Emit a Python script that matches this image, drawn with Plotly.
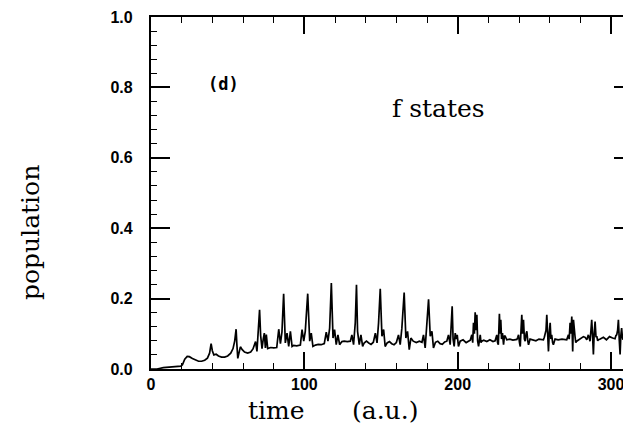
import plotly.graph_objects as go

time = [0, 4, 8, 12, 16, 19.5, 20.5, 22, 23.6, 25, 27, 29, 31, 33, 35, 36.8, 38.2, 39.2, 40.0, 41,
        42.5, 44, 46, 48, 50, 52, 53.5, 54.6, 55.5, 56.0, 56.6, 57.5, 58.3, 59.5, 61, 63, 65, 66.5, 67.5, 68.2,
        69.1, 70.0, 70.8, 71.5, 72.4, 73.2, 73.9, 74.6, 75.2, 76.1, 77, 78, 80, 82, 83.3, 84.4, 85.4, 86.5, 87.6, 88.7,
        89.8, 90.9, 92.0, 93, 95, 97.4, 98.5, 99.6, 100.6, 102.2, 103.5, 104.5, 105.6, 107.2, 109, 111, 113, 114.3, 115.4, 116.5,
        117.6, 118.7, 119.7, 120.8, 121.9, 123.0, 124.5, 126, 128, 130, 131.0, 132.1, 133.2, 134.0, 134.7, 135.8, 136.9, 138.0, 139, 140.5,
        142, 143.5, 145, 146.3, 147.4, 148.4, 149.5, 150.6, 151.7, 152.7, 154, 155.5, 157, 158.5, 160, 161.4, 162.5, 163.6, 165.1, 166.2,
        167.3, 168.4, 169.5, 171, 173, 175, 176.7, 177.7, 178.8, 179.9, 181.0, 182.1, 183.2, 184.2, 185.5, 187, 188.5, 190, 191.5, 192.9,
        194.0, 195.1, 195.8, 196.4, 197.0, 197.7, 198.4, 199.0, 199.7, 200.5, 201.6, 203.5, 205.5, 207, 208.2, 209.2, 209.8, 210.3, 210.9, 211.4,
        212.0, 212.5, 213.0, 213.6, 214.2, 214.7, 215.2, 215.7, 217, 219, 221, 223, 224.4, 225.5, 226.0, 226.5, 227.2, 227.7, 228.1, 228.6,
        229.2, 229.9, 230.5, 231.0, 232, 234, 236, 238.6, 239.2, 239.7, 240.3, 240.8, 241.3, 241.8, 242.3, 242.9, 243.5, 244.0, 244.6, 245.1,
        245.7, 246.2, 247.2, 249, 251, 253, 255.9, 256.5, 257.0, 257.6, 258.1, 258.6, 259.2, 259.7, 260.3, 260.8, 261.3, 261.9, 262.4, 263.5,
        265.5, 268, 271.1, 272.2, 272.7, 273.3, 273.8, 274.4, 275.0, 275.5, 276.0, 276.5, 277.0, 277.6, 279, 280.9, 282, 283.1, 284.2, 285.2,
        285.8, 286.3, 286.9, 287.4, 288.0, 288.5, 289.0, 289.6, 290.2, 290.7, 291.3, 291.8, 293, 295, 297, 299, 301, 302.6, 303.2, 303.7,
        304.3, 304.8, 305.4, 305.9, 306.4, 306.9, 307.4, 307.8]

population = [0.000, 0.000, 0.004, 0.006, 0.007, 0.008, 0.012, 0.028, 0.036, 0.035, 0.030, 0.025, 0.022, 0.022, 0.025, 0.031, 0.045, 0.072, 0.052, 0.040,
              0.042, 0.037, 0.034, 0.034, 0.037, 0.045, 0.058, 0.080, 0.113, 0.070, 0.030, 0.048, 0.063, 0.055, 0.048, 0.045, 0.048, 0.057, 0.070, 0.078,
              0.050, 0.100, 0.168, 0.095, 0.058, 0.085, 0.102, 0.060, 0.098, 0.058, 0.060, 0.061, 0.060, 0.061, 0.113, 0.072, 0.105, 0.214, 0.074, 0.102,
              0.064, 0.107, 0.064, 0.067, 0.066, 0.068, 0.112, 0.079, 0.107, 0.214, 0.079, 0.102, 0.064, 0.068, 0.070, 0.069, 0.072, 0.105, 0.079, 0.116,
              0.244, 0.088, 0.112, 0.069, 0.097, 0.069, 0.078, 0.079, 0.078, 0.079, 0.097, 0.069, 0.131, 0.239, 0.107, 0.069, 0.097, 0.064, 0.074, 0.079,
              0.074, 0.070, 0.076, 0.102, 0.074, 0.131, 0.228, 0.093, 0.112, 0.064, 0.074, 0.078, 0.072, 0.069, 0.075, 0.097, 0.069, 0.116, 0.217, 0.088,
              0.107, 0.055, 0.088, 0.079, 0.075, 0.079, 0.076, 0.097, 0.060, 0.140, 0.198, 0.093, 0.107, 0.060, 0.076, 0.079, 0.072, 0.070, 0.077, 0.079,
              0.097, 0.069, 0.120, 0.178, 0.085, 0.064, 0.102, 0.085, 0.097, 0.064, 0.079, 0.083, 0.075, 0.078, 0.082, 0.097, 0.075, 0.131, 0.100, 0.161,
              0.110, 0.154, 0.080, 0.064, 0.095, 0.097, 0.075, 0.079, 0.082, 0.078, 0.083, 0.078, 0.080, 0.097, 0.075, 0.069, 0.157, 0.100, 0.140, 0.085,
              0.102, 0.069, 0.095, 0.093, 0.083, 0.085, 0.082, 0.084, 0.090, 0.097, 0.075, 0.064, 0.110, 0.154, 0.100, 0.140, 0.085, 0.079, 0.100, 0.107,
              0.080, 0.069, 0.085, 0.083, 0.080, 0.085, 0.083, 0.090, 0.097, 0.110, 0.154, 0.080, 0.050, 0.100, 0.131, 0.085, 0.097, 0.075, 0.069, 0.085,
              0.083, 0.085, 0.083, 0.097, 0.085, 0.131, 0.100, 0.149, 0.050, 0.140, 0.095, 0.093, 0.075, 0.079, 0.083, 0.090, 0.092, 0.090, 0.083, 0.097,
              0.085, 0.079, 0.110, 0.140, 0.090, 0.041, 0.100, 0.135, 0.090, 0.093, 0.080, 0.083, 0.085, 0.090, 0.083, 0.092, 0.088, 0.086, 0.095, 0.097,
              0.110, 0.140, 0.080, 0.041, 0.095, 0.116, 0.090, 0.083]

x_ticks = [0, 100, 200, 300]
x_tick_labels = ["0", "100", "200", "300"]
y_ticks = [0.0, 0.2, 0.4, 0.6, 0.8, 1.0]
y_tick_labels = ["0.0", "0.2", "0.4", "0.6", "0.8", "1.0"]

L, R, T, B = 151, 0, 17, 56
W, H = 623, 425
plot_w = W - L - R
plot_h = H - T - B
x_range = [0, 307.8]
y_range = [0, 1.0]


def px_to_paper(px, py):
    return (px - L) / plot_w, (H - B - py) / plot_h


fig = go.Figure()
fig.add_trace(go.Scatter(x=time, y=population, mode="lines",
                         line=dict(color="black", width=1.7), showlegend=False))
# empty trace that activates the right-hand tick axis
fig.add_trace(go.Scatter(x=[], y=[], yaxis="y2", showlegend=False, hoverinfo="skip"))

tickfont = dict(family="Liberation Sans, Arial, sans-serif", size=16, color="black", weight="bold")
pad = "\u00a0\u00a0\u00a0"

fig.update_layout(
    width=W, height=H, margin=dict(l=L, r=R, t=T, b=B),
    paper_bgcolor="white", plot_bgcolor="white",
    xaxis=dict(range=x_range, tickmode="array", tickvals=x_ticks, ticktext=x_tick_labels,
               ticks="inside", ticklen=17, tickwidth=1.5, tickcolor="black",
               showline=True, linecolor="black", linewidth=1.5, mirror="ticks",
               showgrid=False, zeroline=False, tickfont=tickfont, ticklabeloverflow="allow",
               minor=dict(ticks="inside", dtick=20, tick0=0, ticklen=6, tickwidth=1.3,
                          tickcolor="black", showgrid=False)),
    yaxis=dict(range=y_range, tickmode="array", tickvals=y_ticks,
               ticktext=[t + pad for t in y_tick_labels],
               ticks="inside", ticklen=19, tickwidth=1.5, tickcolor="black",
               showline=True, linecolor="black", linewidth=1.5,
               showgrid=False, zeroline=False, tickfont=tickfont,
               minor=dict(ticks="inside", dtick=0.04, tick0=0, ticklen=6, tickwidth=1.3,
                          tickcolor="black", showgrid=False)),
    yaxis2=dict(range=y_range, overlaying="y", side="right", tickmode="array", tickvals=y_ticks,
                showticklabels=False, ticks="inside", ticklen=9, tickwidth=1.5, tickcolor="black",
                showline=False, showgrid=False, zeroline=False),
)

serif = "DejaVu Serif, serif"
anns = []
for text, px, py, font, angle in [
    ("time", 276, 410, dict(family=serif, size=25, color="black"), 0),
    ("(a.u.)", 385, 410, dict(family=serif, size=25, color="black"), 0),
    ("population", 30, 233, dict(family=serif, size=25, color="black"), -90),
    ("f states", 438, 108, dict(family=serif, size=25, color="black"), 0),
    ("<b>(d)</b>", 223, 84, dict(family="DejaVu Sans Mono, monospace", size=17, color="black"), 0),
]:
    ax, ay = px_to_paper(px, py)
    anns.append(dict(text=text, x=ax, y=ay, xref="paper", yref="paper", showarrow=False,
                     font=font, textangle=angle, xanchor="center", yanchor="middle"))
fig.update_layout(annotations=anns)

fig.write_html("out.html")
